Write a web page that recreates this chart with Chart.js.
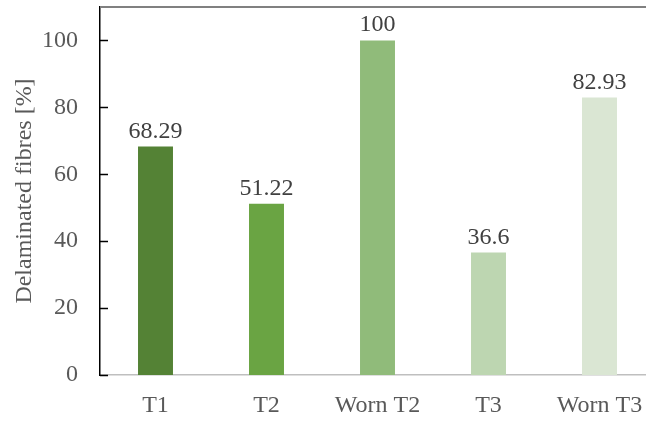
<!DOCTYPE html>
<html>
<head>
<meta charset="utf-8">
<script src="https://cdn.jsdelivr.net/npm/chart.js@4"></script>
<style>
  html, body { margin: 0; padding: 0; background: #fff; overflow: hidden; }
  #wrap { width: 656px; height: 421px; }
</style>
</head>
<body>
<div id="wrap"><canvas id="c"></canvas></div>
<script>
const categories = ['T1', 'T2', 'Worn T2', 'T3', 'Worn T3'];
const delaminated = [68.29, 51.22, 100, 36.6, 82.93];
const barColors = ['#548235', '#6aa443', '#90bb7a', '#bdd6b1', '#dae6d3'];
const yTicks = [0, 20, 40, 60, 80, 100];

const FONT = "'Liberation Serif', 'Times New Roman', serif";

// Inward tick marks on the value axis, plus the thin frame line along the top.
const framePlugin = {
  id: 'frame',
  afterDraw(chart) {
    const { ctx, chartArea, scales } = chart;
    const y = scales.y;
    ctx.save();
    ctx.strokeStyle = '#000';
    ctx.lineWidth = 1.5;
    yTicks.forEach(v => {
      const py = Math.round(y.getPixelForValue(v)) + 0.5;
      ctx.beginPath();
      ctx.moveTo(chartArea.left, py);
      ctx.lineTo(chartArea.left + 8, py);
      ctx.stroke();
    });
    ctx.strokeStyle = '#808080';
    ctx.lineWidth = 2;
    ctx.beginPath();
    ctx.moveTo(chartArea.left, chartArea.top);
    ctx.lineTo(chartArea.right, chartArea.top);
    ctx.stroke();
    ctx.restore();
  }
};

// Value printed above each bar.
const valueLabels = {
  id: 'valueLabels',
  afterDatasetsDraw(chart) {
    const { ctx } = chart;
    const meta = chart.getDatasetMeta(0);
    ctx.save();
    ctx.font = '24px ' + FONT;
    ctx.fillStyle = '#404040';
    ctx.textAlign = 'center';
    ctx.textBaseline = 'alphabetic';
    meta.data.forEach((bar, i) => {
      ctx.fillText(String(delaminated[i]), bar.x, bar.y - 9);
    });
    ctx.restore();
  }
};

function build() {
  new Chart(document.getElementById('c'), {
    type: 'bar',
    data: {
      labels: categories,
      datasets: [{
        data: delaminated,
        backgroundColor: barColors,
        borderWidth: 0,
        categoryPercentage: 1,
        barPercentage: 0.315
      }]
    },
    options: {
      responsive: true,
      maintainAspectRatio: false,
      animation: false,
      devicePixelRatio: 1,
      layout: { padding: { top: 7, right: 1, left: 0, bottom: 0 } },
      plugins: { legend: { display: false }, tooltip: { enabled: false } },
      scales: {
        x: {
          grid: { display: false, drawTicks: false },
          border: { display: true, color: '#bfbfbf', width: 1.5 },
          ticks: { color: '#595959', font: { family: FONT, size: 24 }, padding: 16 },
          afterFit(scale) { scale.height = 46; scale.paddingLeft = 0; scale.paddingRight = 0; }
        },
        y: {
          min: 0,
          max: 110,
          grid: { display: false, drawTicks: false },
          border: { display: true, color: '#000', width: 1.5 },
          ticks: { color: '#595959', font: { family: FONT, size: 24 }, padding: 22, stepSize: 20 },
          afterBuildTicks(scale) { scale.ticks = yTicks.map(v => ({ value: v })); },
          title: {
            display: true,
            text: 'Delaminated fibres [%]',
            color: '#595959',
            font: { family: FONT, size: 24 },
            padding: { top: 10, bottom: 0 }
          },
          afterFit(scale) { scale.width = 100; scale.paddingTop = 0; scale.paddingBottom = 0; }
        }
      }
    },
    plugins: [framePlugin, valueLabels]
  });
}

if (document.fonts && document.fonts.load) {
  document.fonts.load("24px 'Liberation Serif'").then(build, build);
} else {
  build();
}
</script>
</body>
</html>
